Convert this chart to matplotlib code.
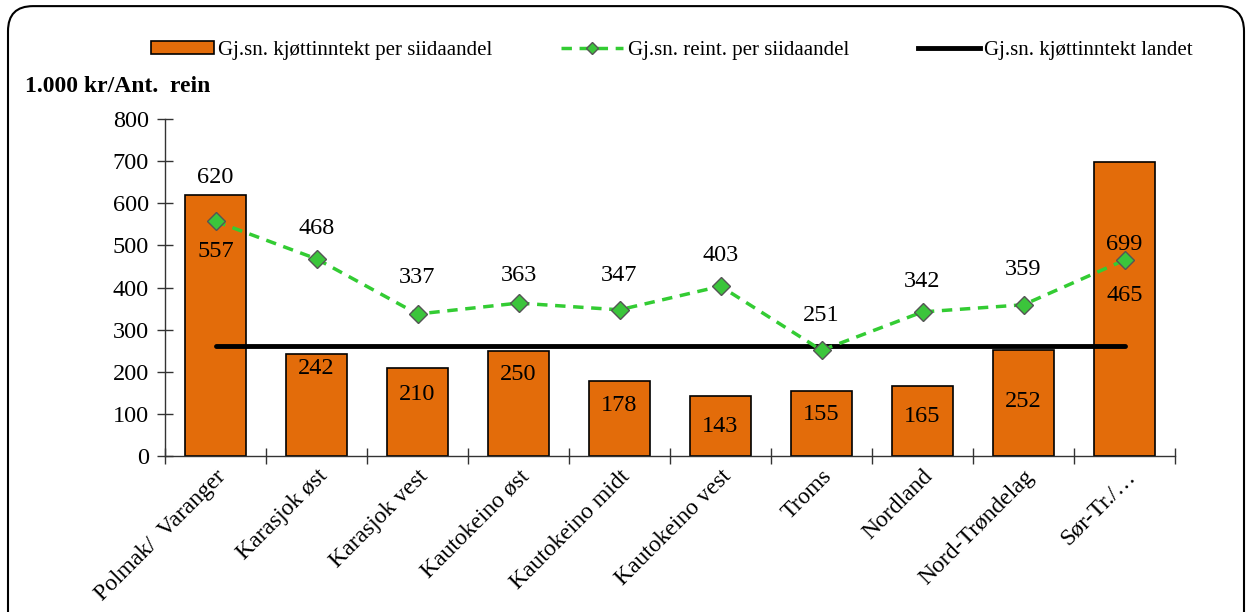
import matplotlib
matplotlib.use("Agg")
import matplotlib.pyplot as plt
import numpy as np
from matplotlib.patches import FancyBboxPatch
from matplotlib.lines import Line2D
from matplotlib.patches import Patch

categories = ["Polmak/  Varanger", "Karasjok øst", "Karasjok vest", "Kautokeino øst",
              "Kautokeino midt", "Kautokeino vest", "Troms", "Nordland",
              "Nord-Trøndelag", "Sør-Tr./…"]
meat_income = [620, 242, 210, 250, 178, 143, 155, 165, 252, 699]
reindeer = [557, 468, 337, 363, 347, 403, 251, 342, 359, 465]
national_avg = 261
yticks = [0, 100, 200, 300, 400, 500, 600, 700, 800]

# label offsets (pixels, negative = above)
bar_label_off = [-17, 14, 27, 24, 24, 31, 24, 30, 52, 83]
line_label_off = [30, -30, -37, -28, -34, -31, -35, -30, -35, 35]

plt.rcParams['font.family'] = ['Liberation Serif', 'DejaVu Serif']
FS = 17.5

fig = plt.figure(figsize=(12.5, 6.12), dpi=100)
ax = fig.add_axes([165/1250, 1-456/612, 1010/1250, 337/612])

x = np.arange(len(categories))
ax.bar(x, meat_income, width=0.6, color="#E36C0A", edgecolor="black", linewidth=1.2, zorder=2)
ax.plot([x[0], x[-1]], [national_avg, national_avg], color="black", lw=3.5,
        solid_capstyle="round", zorder=3)
ax.plot(x, reindeer, color="#33CC33", lw=2.5, ls=(0, (3, 2.2)), marker="D", markersize=9,
        markerfacecolor="#3BC53B", markeredgecolor="#555555", markeredgewidth=1, zorder=4)

for xi, v, off in zip(x, meat_income, bar_label_off):
    ax.annotate(str(v), (xi, v), xytext=(0, -off), textcoords="offset pixels",
                ha="center", va="center", fontsize=FS, zorder=5)
for xi, v, off in zip(x, reindeer, line_label_off):
    ax.annotate(str(v), (xi, v), xytext=(0, -off), textcoords="offset pixels",
                ha="center", va="center", fontsize=FS, zorder=5)

ax.set_xlim(-0.5, len(categories) - 0.5)
ax.set_ylim(0, 800)
ax.set_yticks(yticks)
ax.set_yticklabels([str(t) for t in yticks], fontsize=FS)
ax.set_xticks(x)
ax.set_xticklabels(categories, rotation=45, ha="right", rotation_mode="anchor", fontsize=17)
for lbl in ax.get_xticklabels():
    lbl.set_x(lbl.get_position()[0])
ax.set_xticks(np.arange(-0.5, len(categories), 1), minor=True)
ax.tick_params(axis="x", which="major", length=0, pad=7)
ax.tick_params(axis="x", which="minor", length=11, direction="inout", width=1, color="#333333")
ax.tick_params(axis="y", length=11, direction="inout", width=1, color="#333333", pad=6)
for s in ["top", "right"]:
    ax.spines[s].set_visible(False)
for s in ["left", "bottom"]:
    ax.spines[s].set_color("#333333")
    ax.spines[s].set_linewidth(1)

fig.text(25/1250, 1-87/612, "1.000 kr/Ant.  rein", fontsize=17, fontweight="bold",
         ha="left", va="center")

handles = [Patch(facecolor="#E36C0A", edgecolor="black", linewidth=1.2),
           Line2D([0], [0], color="#33CC33", lw=2.5, ls=(0, (3, 2.2)), marker="D", markersize=6,
                  markerfacecolor="#3BC53B", markeredgecolor="#555555"),
           Line2D([0], [0], color="black", lw=3.5)]
labels = ["Gj.sn. kjøttinntekt per siidaandel", "Gj.sn. reint. per siidaandel",
          "Gj.sn. kjøttinntekt landet"]
fig.legend(handles, labels, loc="center", bbox_to_anchor=(672/1250, 1-50/612), ncol=3,
           frameon=False, fontsize=15, handlelength=3.0, handleheight=0.6,
           handletextpad=0.2, columnspacing=3.3)

frame = FancyBboxPatch((8/1250, -0.05), 1236/1250, 1.04, boxstyle="round,pad=0,rounding_size=0.02",
                       transform=fig.transFigure, fill=False, edgecolor="black", linewidth=1.5,
                       mutation_aspect=1250/612)
fig.patches.append(frame)

fig.savefig("out.png", dpi=100)
